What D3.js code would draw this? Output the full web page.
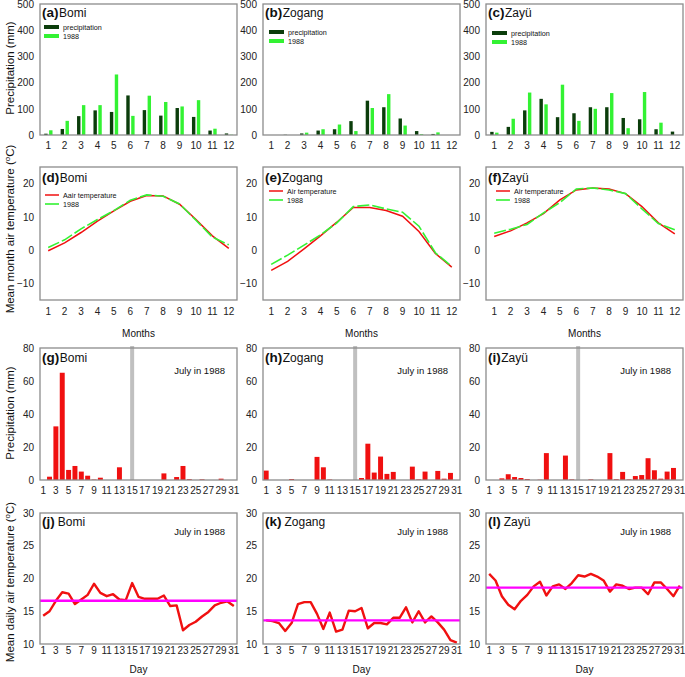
<!DOCTYPE html>
<html><head><meta charset="utf-8">
<script src="https://cdn.jsdelivr.net/npm/d3@7"></script>
<style>body{margin:0;background:#fff} svg{display:block}</style>
</head><body><svg id="c" width="685" height="677"></svg>
<script>
// ---------- DATA ----------
const stations = ["Bomi", "Zogang", "Zayü"];
const months = [1,2,3,4,5,6,7,8,9,10,11,12];
const days = [1,2,3,4,5,6,7,8,9,10,11,12,13,14,15,16,17,18,19,20,21,22,23,24,25,26,27,28,29,30,31];
const dayTickLabels = [1,3,5,7,9,11,13,15,17,19,21,23,25,27,29,31];
const precipTicks = [0,100,200,300,400,500];
const tempTicks = [-10,0,10,20];
const dailyPTicks = [0,20,40,60,80];
const dailyTTicks = [10,15,20,25,30];

const bomiPrecip      = [5,23,72,94,88,151,95,74,103,69,17,6];
const bomiPrecip1988  = [18,54,114,114,231,73,150,126,109,133,24,1];
const zogangPrecip    = [0,1,6,17,22,53,131,106,63,15,4,0];
const zogangPrecip1988= [0,0,9,22,40,15,103,156,36,3,10,0];
const zayuPrecip      = [12,31,94,138,68,83,106,106,65,60,22,13];
const zayuPrecip1988  = [9,62,162,117,192,54,100,160,26,164,47,0];

const bomiTemp       = [-0.2,2.2,5.3,8.7,11.8,14.7,16.4,16.3,13.8,9.2,4.3,0.5];
const bomiTemp1988   = [0.8,3.1,6.4,9.2,11.9,15.0,16.6,16.2,13.9,9.0,3.9,1.6];
const zogangTemp     = [-6.1,-3.4,0.4,4.3,8.4,12.8,12.8,11.9,10.2,5.6,-1.0,-5.1];
const zogangTemp1988 = [-4.3,-1.5,1.5,4.6,8.2,13.1,13.6,12.4,11.4,7.2,-0.8,-4.9];
const zayuTemp       = [4.1,5.8,8.2,11.0,15.1,18.1,18.7,18.4,17.0,13.1,8.2,4.9];
const zayuTemp1988   = [5.1,6.3,7.7,11.2,14.3,18.4,18.7,18.1,17.0,12.4,8.0,6.1];

const bomiDailyP   = [0,2,32.5,65,6.1,8.5,5.1,2.6,0.3,1.4,0,0,7.7,0,0,0,0,0,0,4,0,1.8,8.5,0.5,0,0.4,0,0,0.8,0,0];
const zogangDailyP = [5.7,0,0,0,0.6,0,0,0,14,7.7,0.3,0,0,0,0,1.2,22,4.5,14.2,3.7,4.9,0,0,8.1,0.4,5.1,0,5.5,0.8,4.3,0];
const zayuDailyP   = [0,0,1.0,3.5,1.8,1.2,0.6,0,0.2,16.3,0,0,14.8,0.4,0,0,0.4,0,0,16.3,0.5,4.9,0.4,2.4,3.0,13.2,5.9,0.8,5.1,7.3,0];

const bomiDailyT   = [14.3,15.0,16.6,17.9,17.7,16.1,16.8,17.5,19.2,17.8,17.3,17.6,16.8,16.7,19.3,17.2,16.9,16.9,16.9,17.4,15.8,15.9,12.1,12.9,13.4,14.2,14.9,15.9,16.3,16.5,15.8];
const zogangDailyT = [13.6,13.5,13.2,12.0,13.2,16.1,16.4,16.4,14.6,12.3,14.8,11.9,12.2,15.1,15.0,15.5,12.4,13.2,13.2,13.0,14.0,14.0,15.6,13.3,15.0,13.3,14.2,13.3,12.2,10.6,10.2];
const zayuDailyT   = [20.7,19.7,17.3,16.0,15.3,16.6,17.5,18.8,19.5,17.4,18.8,19.1,18.4,19.3,20.5,20.3,20.7,20.3,19.7,18.0,19.1,18.9,18.4,18.6,18.6,17.6,19.4,19.4,18.4,17.3,18.9];
const dailyMeanT   = [16.6, 13.6, 18.6];

const monthlyP = [bomiPrecip, zogangPrecip, zayuPrecip];
const monthlyP88 = [bomiPrecip1988, zogangPrecip1988, zayuPrecip1988];
const monthlyT = [bomiTemp, zogangTemp, zayuTemp];
const monthlyT88 = [bomiTemp1988, zogangTemp1988, zayuTemp1988];
const dailyP = [bomiDailyP, zogangDailyP, zayuDailyP];
const dailyT = [bomiDailyT, zogangDailyT, zayuDailyT];

// ---------- LAYOUT ----------
const FONT = '"Liberation Sans", Arial, sans-serif';
const svg = d3.select("#c").attr("font-family", FONT);
const COLS = [40, 263, 486], PW = 197;
const ROWS = [[4,135],[167,300],[348,480],[513,644]];
const DARK = "#0b3d0b", BRIGHT = "#33f233", RED = "#f01010", MAG = "#ff00ff", FRAME = "#8c8c8c";
const letters = ["abc","def","ghi","jkl"];

function frame(x0, r){
  svg.append("rect").attr("x",x0).attr("y",ROWS[r][0]).attr("width",PW).attr("height",ROWS[r][1]-ROWS[r][0])
    .attr("fill","none").attr("stroke",FRAME).attr("stroke-width",1.3);
}
function yAxis(y, x0, ticks){
  const g = svg.append("g").attr("transform",`translate(${x0},0)`)
    .call(d3.axisLeft(y).tickValues(ticks).tickSize(0).tickPadding(6));
  g.select(".domain").remove();
  g.attr("font-family",FONT).attr("font-size",10);
  g.selectAll("text").attr("fill","#222");
}
function xAxis(x, yPos, ticks, pad){
  const g = svg.append("g").attr("transform",`translate(0,${yPos})`)
    .call(d3.axisBottom(x).tickValues(ticks).tickSize(0).tickPadding(pad));
  g.select(".domain").remove();
  g.attr("font-family",FONT).attr("font-size",10);
  g.selectAll("text").attr("fill","#222");
}
function title(x, y, letter, name, sp){
  const t = svg.append("text").attr("x",x).attr("y",y).attr("fill","#111");
  t.append("tspan").attr("font-weight","bold").attr("font-size",13.5).text(`(${letter})`);
  t.append("tspan").attr("font-size",12).attr("dx",sp).text(name);
}
function note(x0, y){
  svg.append("text").attr("x",x0+PW-12).attr("y",y).attr("text-anchor","end").attr("font-size",9.5).attr("fill","#111").text("July in 1988");
}

// ---------- ROW 1: monthly precipitation ----------
const legP = [[4,27],[6,32],[6,33]];
stations.forEach((s,i)=>{
  const x0 = COLS[i];
  const x = d3.scaleBand().domain(months).range([x0, x0+PW]);
  const y = d3.scaleLinear().domain([0,500]).range([ROWS[0][1], ROWS[0][0]]);
  const bw = 3.4;
  svg.append("g").selectAll("rect").data(months).join("rect")
    .attr("x",(m)=>x(m)+x.bandwidth()/2-bw-0.6).attr("width",bw)
    .attr("y",(m,j)=>y(monthlyP[i][j])).attr("height",(m,j)=>y(0)-y(monthlyP[i][j])).attr("fill",DARK);
  svg.append("g").selectAll("rect").data(months).join("rect")
    .attr("x",(m)=>x(m)+x.bandwidth()/2+0.9).attr("width",bw)
    .attr("y",(m,j)=>y(monthlyP88[i][j])).attr("height",(m,j)=>y(0)-y(monthlyP88[i][j])).attr("fill",BRIGHT);
  frame(x0,0);
  yAxis(y, x0, precipTicks);
  xAxis(x, ROWS[0][1], months, 7);
  title(x0+2, 17, letters[0][i], s, 0.5);
  const lx = x0+legP[i][0], ly = legP[i][1];
  svg.append("rect").attr("x",lx).attr("y",ly-2).attr("width",15).attr("height",4).attr("fill",DARK);
  svg.append("rect").attr("x",lx).attr("y",ly+7).attr("width",15).attr("height",4).attr("fill",BRIGHT);
  svg.append("text").attr("x",lx+19).attr("y",ly+2.5).attr("font-size",7.2).attr("fill","#111").text("precipitation");
  svg.append("text").attr("x",lx+19).attr("y",ly+11.5).attr("font-size",7.2).attr("fill","#111").text("1988");
});

// ---------- ROW 2: monthly temperature ----------
const legT = [[5,195,"Aair temperature"],[6,191,"Air temperature"],[10,191,"Air temperature"]];
stations.forEach((s,i)=>{
  const x0 = COLS[i];
  const x = d3.scaleBand().domain(months).range([x0, x0+PW]);
  const y = d3.scaleLinear().domain([-15,25]).range([ROWS[1][1], ROWS[1][0]]);
  const cx = (m)=>x(m)+x.bandwidth()/2;
  const line = d3.line().x((d,j)=>cx(months[j])).y(d=>y(d));
  svg.append("path").attr("d",line(monthlyT[i])).attr("fill","none").attr("stroke",RED).attr("stroke-width",1.5);
  svg.append("path").attr("d",line(monthlyT88[i])).attr("fill","none").attr("stroke",BRIGHT).attr("stroke-width",1.6).attr("stroke-dasharray","12,3");
  frame(x0,1);
  yAxis(y, x0, tempTicks);
  xAxis(x, ROWS[1][1], months, 8);
  title(x0+2, 182, letters[1][i], s, 0.5);
  svg.append("text").attr("x",x0+PW/2).attr("y",337).attr("text-anchor","middle").attr("font-size",10).attr("fill","#111").text("Months");
  const lx = x0+legT[i][0], ly = legT[i][1];
  svg.append("line").attr("x1",lx).attr("x2",lx+14).attr("y1",ly).attr("y2",ly).attr("stroke",RED).attr("stroke-width",1.5);
  svg.append("line").attr("x1",lx).attr("x2",lx+14).attr("y1",ly+9).attr("y2",ly+9).attr("stroke",BRIGHT).attr("stroke-width",1.6);
  svg.append("text").attr("x",lx+18).attr("y",ly+2.5).attr("font-size",7.2).attr("fill","#111").text(legT[i][2]);
  svg.append("text").attr("x",lx+18).attr("y",ly+11.5).attr("font-size",7.2).attr("fill","#111").text("1988");
});

// ---------- ROW 3: daily precipitation ----------
stations.forEach((s,i)=>{
  const x0 = COLS[i];
  const x = d3.scaleBand().domain(days).range([x0, x0+PW]);
  const y = d3.scaleLinear().domain([0,80]).range([ROWS[2][1], ROWS[2][0]]);
  const bw = x.bandwidth()*0.78;
  svg.append("rect").attr("x",x(15)+x.bandwidth()/2-2).attr("width",4).attr("y",ROWS[2][0]-2).attr("height",ROWS[2][1]-ROWS[2][0]+2).attr("fill","#c0c0c0");
  svg.append("g").selectAll("rect").data(days).join("rect")
    .attr("x",d=>x(d)+(x.bandwidth()-bw)/2).attr("width",bw)
    .attr("y",(d,j)=>y(dailyP[i][j])).attr("height",(d,j)=>y(0)-y(dailyP[i][j])).attr("fill",RED);
  frame(x0,2);
  yAxis(y, x0, dailyPTicks);
  xAxis(x, ROWS[2][1], dayTickLabels, 7);
  title(x0+2, 362, letters[2][i], s, 0.5);
  note(x0, 374);
});

// ---------- ROW 4: daily temperature ----------
stations.forEach((s,i)=>{
  const x0 = COLS[i];
  const x = d3.scaleBand().domain(days).range([x0, x0+PW]);
  const y = d3.scaleLinear().domain([10,30]).range([ROWS[3][1], ROWS[3][0]]);
  const cx = (d)=>x(d)+x.bandwidth()/2;
  svg.append("path").attr("d",d3.line().x((d,j)=>cx(days[j])).y(d=>y(d))(dailyT[i]))
    .attr("fill","none").attr("stroke",RED).attr("stroke-width",2.4).attr("stroke-linejoin","round");
  svg.append("line").attr("x1",x0).attr("x2",x0+PW).attr("y1",y(dailyMeanT[i])).attr("y2",y(dailyMeanT[i]))
    .attr("stroke",MAG).attr("stroke-width",2.4);
  frame(x0,3);
  yAxis(y, x0, dailyTTicks);
  xAxis(x, ROWS[3][1], dayTickLabels, 3);
  title(x0+2, 526, letters[3][i], s, 3);
  note(x0, 535);
  svg.append("text").attr("x",x0+PW/2).attr("y",673).attr("text-anchor","middle").attr("font-size",10).attr("fill","#111").text("Day");
});

// ---------- Y titles ----------
function ytitle(cy, main){
  const t = svg.append("text").attr("transform",`translate(14,${cy}) rotate(-90)`).attr("text-anchor","middle").attr("font-size",11.5).attr("fill","#111");
  t.append("tspan").text(main);
  return t;
}
ytitle(68, "Precipitation (mm)");
const t2 = ytitle(229, "Mean month air temperature (");
t2.append("tspan").attr("font-size",8).attr("dy",-4).text("o");
t2.append("tspan").attr("dy",4).text("C)");
ytitle(413, "Precipitation (mm)");
const t4 = ytitle(582, "Mean daily air temperature (");
t4.append("tspan").attr("font-size",8).attr("dy",-4).text("o");
t4.append("tspan").attr("dy",4).text("C)");
</script></body></html>
